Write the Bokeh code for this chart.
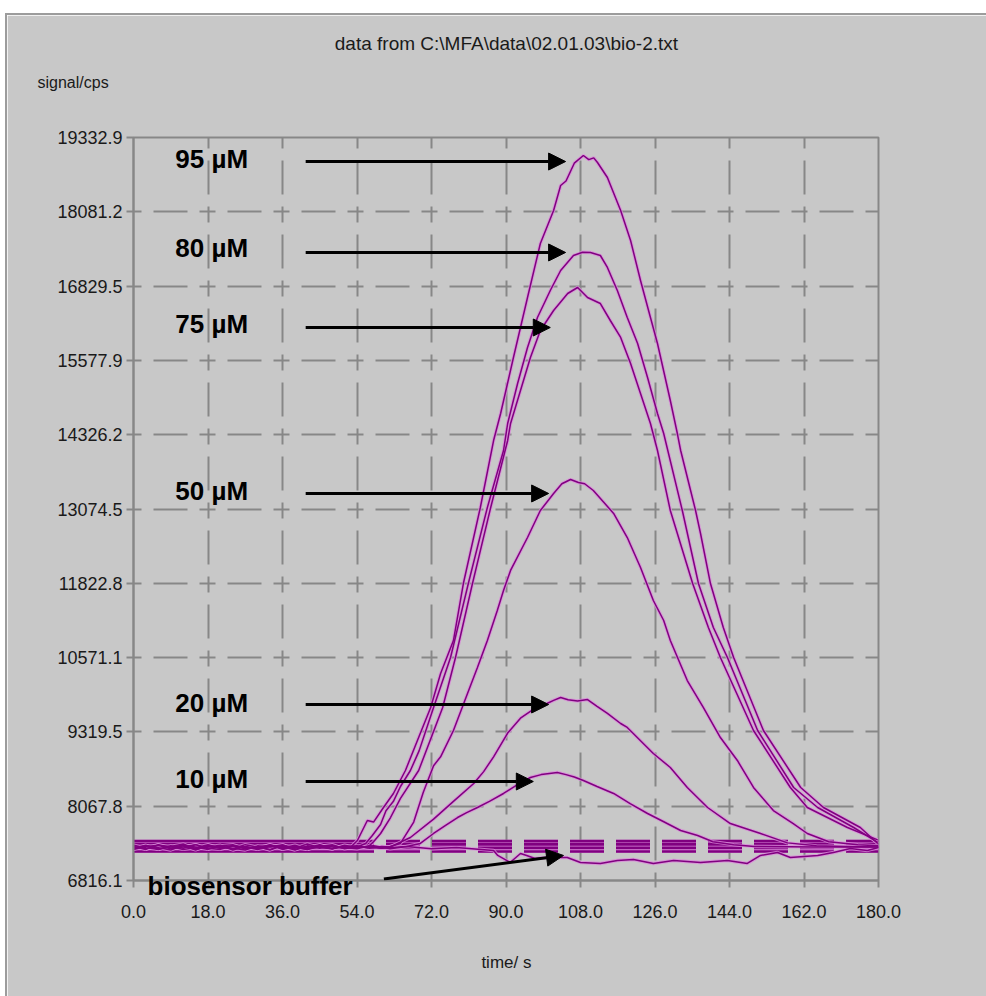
from bokeh.plotting import figure
from bokeh.models import Label, Arrow, NormalHead, Spacer, Range1d, FixedTicker, NumeralTickFormatter
from bokeh.layouts import column, row
from bokeh.embed import file_html
from bokeh.resources import INLINE

# ---------------- data ----------------
x_ticks = [0, 18, 36, 54, 72, 90, 108, 126, 144, 162, 180]
y_ticks = [6816.1, 8067.8, 9319.5, 10571.1, 11822.8, 13074.5, 14326.2, 15577.9, 16829.5, 18081.2, 19332.9]

base_t = [0, 3, 6, 9, 12, 15, 18, 21, 24, 27, 30, 33, 36, 39, 42, 45, 48, 51]

# 95 uM
t95 = base_t + [52.4, 54.1, 56.5, 58.0, 60.4, 62.8, 65.7, 68.6, 71.8, 74.2, 77.3, 79.7, 83.8, 87.0, 88.7,
                91.8, 95.2, 98.3, 101.5, 103.2, 104.5, 106.5, 108.7, 110.0, 111.2, 112.1, 114.5, 117.7,
                120.1, 122.5, 124.9, 126.6, 129.7, 131.4, 132.2, 134.6, 135.8, 137.0, 139.4, 142.5,
                145.0, 152.2, 161.2, 166.7, 175.6, 179.8]
v95 = [7390, 7340, 7420, 7360, 7400, 7330, 7410, 7370, 7350, 7420, 7380, 7340, 7400, 7360, 7430, 7370, 7350, 7400] + \
      [7372, 7490, 7827, 7800, 8046, 8282, 8669, 9175, 9730, 10303, 10859, 11819, 13100, 14228, 14683,
       15626, 16637, 17547, 18103, 18524, 18600, 18900, 19030, 18960, 18990, 18912, 18659, 18103,
       17598, 16924, 16300, 15863, 14902, 14346, 14060, 13386, 13049, 12662, 11819, 11078,
       10573, 9343, 8383, 8046, 7709, 7440]

# 80 uM
t80 = base_t + [54.0, 56.1, 57.7, 59.7, 61.0, 62.8, 64.5, 66.9, 69.0, 72.5, 76.6, 80.9, 85.5, 89.4, 90.4,
                92.8, 95.2, 97.6, 100.7, 103.2, 106.3, 108.5, 110.4, 112.8, 114.5, 116.9, 119.3, 121.8,
                124.2, 126.6, 128.1, 132.6, 136.5, 140.1, 143.5, 150.8, 159.5, 165.3, 174.0, 179.8]
v80 = [7360, 7410, 7340, 7390, 7430, 7350, 7380, 7410, 7330, 7390, 7360, 7420, 7350, 7390, 7340, 7410, 7380, 7360] + \
      [7380, 7440, 7575, 7760, 7990, 8150, 8400, 8669, 9000, 9730, 10573, 11819, 13100, 14060, 14515,
       15189, 15795, 16301, 16755, 17092, 17345, 17400, 17396, 17345, 17143, 16755, 16301, 15863,
       15290, 14683, 14346, 13049, 11819, 11078, 10573, 9343, 8383, 8046, 7709, 7460]

# 75 uM
t75 = base_t + [54.0, 56.5, 58.0, 59.7, 62.1, 64.5, 68.9, 74.7, 77.8, 81.9, 86.3, 90.4, 91.1, 93.5, 95.9,
                98.3, 101.5, 104.9, 107.3, 109.7, 112.8, 115.2, 117.7, 120.1, 122.5, 124.9, 126.6,
                129.7, 135.1, 138.9, 141.8, 149.8, 158.7, 162.8, 172.5, 179.8]
v75 = [7350, 7400, 7370, 7330, 7410, 7380, 7340, 7400, 7420, 7350, 7390, 7330, 7410, 7370, 7340, 7390, 7420, 7350] + \
      [7390, 7370, 7470, 7608, 7877, 8200, 8669, 9730, 10573, 11819, 13100, 14229, 14515, 15071, 15627,
       16082, 16418, 16705, 16806, 16637, 16536, 16250, 15964, 15526, 15020, 14515, 14060,
       13049, 11819, 11078, 10573, 9343, 8383, 8046, 7709, 7500]

# 50 uM
t50 = base_t + [54.0, 57.0, 60.0, 62.0, 64.5, 67.7, 70.0, 72.5, 74.2, 77.3, 80.7, 83.1, 85.5, 87.9, 89.4,
                91.1, 95.2, 98.3, 101.5, 103.5, 105.6, 107.5, 109.0, 111.1, 116.0, 119.3, 122.5, 125.6,
                128.1, 129.7, 133.8, 137.7, 141.8, 145.9, 149.8, 154.6, 159.4, 162.8, 168.0, 175.0, 180.0]
v50 = [7410, 7370, 7340, 7400, 7360, 7420, 7350, 7390, 7360, 7330, 7400, 7380, 7420, 7340, 7390, 7360, 7400, 7370] + \
      [7350, 7400, 7360, 7390, 7440, 7800, 8300, 8750, 8900, 9343, 9966, 10404, 10859, 11364, 11702,
       12039, 12594, 13049, 13336, 13500, 13571, 13520, 13500, 13386, 13000, 12594, 12089, 11533,
       11196, 10859, 10185, 9730, 9225, 8838, 8383, 7995, 7776, 7608, 7470, 7420, 7400]

# 20 uM
t20 = base_t + [54.0, 57.0, 60.0, 62.0, 66.9, 72.5, 77.3, 82.2, 84.6, 87.0, 90.4, 93.5, 96.6, 99.9, 101.5,
                103.2, 105.0, 107.3, 109.7, 112.0, 114.5, 117.7, 119.3, 125.6, 129.7, 133.8, 138.7, 144.2,
                151.5, 158.0, 165.0, 172.0, 180.0]
v20 = [7380, 7350, 7410, 7390, 7340, 7370, 7420, 7360, 7400, 7350, 7380, 7410, 7340, 7390, 7370, 7420, 7350, 7390] + \
      [7400, 7360, 7390, 7380, 7541, 7850, 8150, 8450, 8650, 8900, 9300, 9550, 9700, 9798, 9850,
       9899, 9860, 9840, 9865, 9750, 9630, 9461, 9394, 8956, 8720, 8383, 8046, 7776,
       7608, 7450, 7400, 7390, 7380]

# 10 uM
t10 = base_t + [54.0, 58.0, 62.0, 66.0, 69.3, 72.5, 75.5, 78.3, 80.5, 83.1, 86.0, 89.4, 92.5, 95.9, 98.5,
                100.5, 102.4, 104.5, 106.5, 108.7, 112.0, 116.0, 120.0, 124.2, 128.0, 132.2, 136.3,
                140.0, 145.0, 150.0, 165.0, 180.0]
v10 = [7340, 7390, 7410, 7350, 7380, 7420, 7360, 7340, 7400, 7370, 7350, 7410, 7390, 7330, 7400, 7380, 7350, 7410] + \
      [7370, 7400, 7350, 7390, 7440, 7608, 7750, 7877, 7960, 8046, 8150, 8282, 8420, 8551, 8600,
       8620, 8636, 8600, 8560, 8501, 8400, 8282, 8110, 7945, 7810, 7659, 7575,
       7470, 7420, 7390, 7380, 7380]

# biosensor buffer
tbuf = base_t + [54.0, 60.0, 66.0, 72.0, 78.0, 84.0, 87.0, 88.0, 91.0, 93.5, 95.0, 97.0, 100.0, 104.8,
                 108.0, 112.8, 116.9, 120.8, 125.6, 130.5, 137.0, 143.5, 148.3, 151.5, 155.6, 158.7,
                 165.3, 169.1, 173.2, 177.3, 180.0]
vbuf = [7370, 7400, 7350, 7380, 7410, 7340, 7390, 7360, 7400, 7380, 7340, 7390, 7370, 7410, 7350, 7380, 7400, 7360] + \
       [7380, 7360, 7390, 7350, 7370, 7340, 7322, 7238, 7120, 7271, 7238, 7187, 7204, 7204,
        7120, 7103, 7153, 7170, 7103, 7153, 7120, 7153, 7103, 7238, 7288, 7204,
        7238, 7288, 7355, 7322, 7372]

# flat stepped baseline traces
stripe_t_a = [0, 54]
stripe_t_b = [54, 180]
stripe_levels = [7480, 7425, 7365, 7305]
stripe_band = 7392

curves = [(t95, v95), (t80, v80), (t75, v75), (t50, v50), (t20, v20), (t10, v10), (tbuf, vbuf)]

# annotations: (label, label_t, label_v, arrow_t0, arrow_v0, arrow_t1, arrow_v1)
annotations = [
    ("95 µM", 10.1, 18979, 41.6, 18928, 104.4, 18928),
    ("80 µM", 10.1, 17463, 41.6, 17396, 104.4, 17396),
    ("75 µM", 10.1, 16183, 41.6, 16132, 100.7, 16132),
    ("50 µM", 10.1, 13370, 41.6, 13336, 100.3, 13336),
    ("20 µM", 10.1, 9798, 41.6, 9781, 100.3, 9781),
    ("10 µM", 10.1, 8518, 41.6, 8484, 96.6, 8484),
]
buffer_label = ("biosensor buffer", 3.4, 6722)
buffer_arrow = (60.5, 6840, 103.9, 7238)

title_text = "data from C:\\MFA\\data\\02.01.03\\bio-2.txt"
ylabel_text = "signal/cps"
xlabel_text = "time/ s"

# ---------------- figure ----------------
BG = "#c8c8c8"
GRID = "#878787"
PURPLE = "#800080"
HALO = "#d98ad9"
FONT = "Liberation Sans"

p = figure(width=979, height=981, x_range=Range1d(0, 180), y_range=Range1d(6816.1, 19332.9),
           output_backend="svg", toolbar_location=None,
           min_border_left=126, min_border_right=108, min_border_top=122, min_border_bottom=116,
           background_fill_color=BG, border_fill_color=BG)

p.xaxis.ticker = FixedTicker(ticks=x_ticks)
p.yaxis.ticker = FixedTicker(ticks=y_ticks)
p.xaxis.formatter = NumeralTickFormatter(format="0.0")
p.yaxis.formatter = NumeralTickFormatter(format="0.0")
for ax in (p.xaxis, p.yaxis):
    ax.axis_line_color = GRID
    ax.axis_line_width = 2
    ax.major_tick_line_color = GRID
    ax.major_tick_line_width = 2
    ax.major_tick_out = 7
    ax.major_tick_in = 0
    ax.minor_tick_line_color = None
    ax.major_label_text_font = FONT
    ax.major_label_text_font_size = "18px"
    ax.major_label_text_color = "#1a1a1a"
p.xaxis.major_label_standoff = 17
p.yaxis.major_label_standoff = 4

p.outline_line_color = GRID
p.outline_line_width = 2

for g in (p.xgrid, p.ygrid):
    g.grid_line_color = GRID
    g.grid_line_width = 2
    g.grid_line_dash = "16 12 34 12"
    g.grid_line_dash_offset = 8

# stepped baseline band
p.line(stripe_t_a, [stripe_band, stripe_band], line_color=HALO, line_width=13)
p.line(stripe_t_b, [stripe_band, stripe_band], line_color=HALO, line_width=13,
       line_dash="34 12", line_dash_offset=17)
for lv in stripe_levels:
    p.line(stripe_t_a, [lv, lv], line_color=PURPLE, line_width=2.6)
    p.line(stripe_t_b, [lv, lv], line_color=PURPLE, line_width=2.6, line_dash="34 12", line_dash_offset=17)

for t, v in curves:
    p.line(t, v, line_color=HALO, line_width=3.4, line_alpha=0.8)
for t, v in curves:
    p.line(t, v, line_color=PURPLE, line_width=1.5)

for lab, lt, lv, a0, b0, a1, b1 in annotations:
    p.add_layout(Label(x=lt, y=lv, text=lab, text_font=FONT, text_font_style="bold",
                       text_font_size="26px", text_color="black", text_baseline="middle", text_align="left"))
    p.add_layout(Arrow(x_start=a0, y_start=b0, x_end=a1, y_end=b1, line_color="black", line_width=3,
                       end=NormalHead(size=17, fill_color="black", line_color="black", line_width=1)))

a0, b0, a1, b1 = buffer_arrow
p.add_layout(Arrow(x_start=a0, y_start=b0, x_end=a1, y_end=b1, line_color="black", line_width=3,
                   end=NormalHead(size=17, fill_color="black", line_color="black", line_width=1)))

# texts outside the frame, placed in side panels so they are not clipped
p.add_layout(Label(x=buffer_label[1], y=buffer_label[2], text=buffer_label[0], text_font=FONT,
                   text_font_style="bold", text_font_size="26px", text_color="black",
                   text_baseline="middle", text_align="left"), "below")
p.add_layout(Label(x=90.1, y=5435, text=xlabel_text, text_font=FONT, text_font_size="17px",
                   text_color="#1a1a1a", text_baseline="middle", text_align="center"), "below")
p.add_layout(Label(x=90.1, y=20916, text=title_text, text_font=FONT, text_font_size="19px",
                   text_color="#1a1a1a", text_baseline="middle", text_align="center"), "above")
p.add_layout(Label(x=-23.2, y=20259, text=ylabel_text, text_font=FONT, text_font_size="16px",
                   text_color="#1a1a1a", text_baseline="middle", text_align="left"), "above")

top_line = Spacer(width=981, height=2, styles={"background-color": "#9c9c9c"})
left_line = Spacer(width=2, height=981, styles={"background-color": "#9c9c9c"})
layout = column(Spacer(width=986, height=13),
                row(Spacer(width=5, height=983), column(top_line, row(left_line, p))))

open("out.html", "w").write(file_html(layout, INLINE))
